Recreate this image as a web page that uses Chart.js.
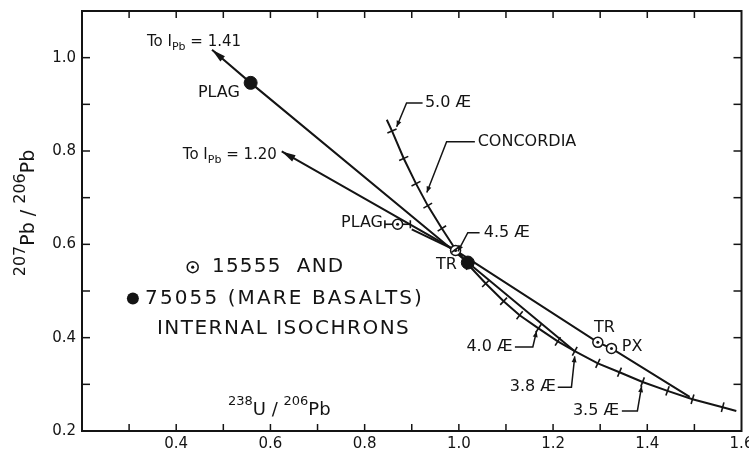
<!DOCTYPE html>
<html><head><meta charset="utf-8">
<script src="https://cdn.jsdelivr.net/npm/chart.js@4.4.0/dist/chart.umd.min.js"></script>
<style>html,body{margin:0;padding:0;background:#fff;}#wrap{width:749px;height:458px;}</style>
</head><body><div id="wrap"><canvas id="c" width="749" height="458"></canvas></div>
<script>
// ---------- data ----------
const xTickLabels = ['0.4','0.6','0.8','1.0','1.2','1.4','1.6'];
const yTickLabels = ['0.2','0.4','0.6','0.8','1.0'];

const concordiaAges = ['', '5.0','4.9','4.8','4.7','4.6','4.5','4.4','4.3','4.2','4.1','4.0','3.9','3.8','3.7','3.6','3.5','3.4','3.3','3.2',''];
const concordiaX = [0.847,0.858,0.883,0.909,0.934,0.964,0.993,1.023,1.057,1.095,1.129,1.169,1.210,1.246,1.295,1.341,1.390,1.443,1.496,1.560,1.589];
const concordiaY = [0.867,0.843,0.784,0.730,0.683,0.634,0.589,0.553,0.516,0.478,0.448,0.420,0.392,0.371,0.345,0.326,0.305,0.286,0.268,0.251,0.243];

const iso75055X = [0.476,0.558,1.019,1.246];
const iso75055Y = [1.017,0.946,0.561,0.371];
const iso15555X = [0.624,0.993,1.295,1.324,1.490];
const iso15555Y = [0.799,0.587,0.390,0.377,0.273];
const plag15555SegX = [0.900,0.993];
const plag15555SegY = [0.632,0.587];

const pts75055Names = ['PLAG','TR'];
const pts75055X = [0.558,1.019];
const pts75055Y = [0.946,0.561];
const pts15555Names = ['PLAG','TR','TR','PX'];
const pts15555X = [0.870,0.993,1.295,1.324];
const pts15555Y = [0.643,0.587,0.390,0.377];
const plagErrX = 0.027;

// ---------- styling / annotations ----------
const INK = '#141414';
const FONT = '"DejaVu Sans", sans-serif';
const xy = (xs, ys) => xs.map((x, i) => ({x, y: ys[i]}));

const notes = [
  {parts:[['To I',15],['Pb',11,5],[' = 1.41',15]], x:0.338, y:1.034, align:'left'},
  {parts:[['PLAG',16]], x:0.446, y:0.925, align:'left'},
  {parts:[['To I',15],['Pb',11,5],[' = 1.20',15]], x:0.414, y:0.792, align:'left'},
  {parts:[['5.0 Æ',16]], x:0.928, y:0.903, align:'left'},
  {parts:[['CONCORDIA',16]], x:1.040, y:0.820, align:'left'},
  {parts:[['PLAG',16]], x:0.839, y:0.647, align:'right'},
  {parts:[['4.5 Æ',16]], x:1.053, y:0.625, align:'left'},
  {parts:[['TR',16]], x:0.996, y:0.555, align:'right'},
  {parts:[['TR',16]], x:1.309, y:0.422, align:'center'},
  {parts:[['PX',16]], x:1.346, y:0.380, align:'left'},
  {parts:[['4.0 Æ',16]], x:1.114, y:0.380, align:'right'},
  {parts:[['3.8 Æ',16]], x:1.206, y:0.294, align:'right'},
  {parts:[['3.5 Æ',16]], x:1.340, y:0.243, align:'right'},
  {parts:[['15555  AND',20]], x:0.476, y:0.551, align:'left', sp:1.2},
  {parts:[['75055 (MARE BASALTS)',20]], x:0.334, y:0.484, align:'left', sp:2.1},
  {parts:[['INTERNAL ISOCHRONS',20]], x:0.359, y:0.418, align:'left', sp:1.5},
  {parts:[['238',13,-8],['U',18],[' / ',18],['206',13,-8],['Pb',18]], x:0.510, y:0.245, align:'left'}
];
const leaders = [
  [[0.923,0.903],[0.889,0.903],[0.868,0.852]],
  [[1.034,0.820],[0.974,0.820],[0.932,0.711]],
  [[1.044,0.625],[1.019,0.625],[0.998,0.585]],
  [[1.119,0.380],[1.157,0.380],[1.165,0.414]],
  [[1.210,0.294],[1.239,0.294],[1.246,0.360]],
  [[1.346,0.243],[1.379,0.243],[1.388,0.296]]
];
const legendMarks = [{x:0.435, y:0.551, open:true},{x:0.308, y:0.484, open:false}];

function drawRich(ctx, parts, x, y, align, sp){
  ctx.letterSpacing = (sp||0) + 'px';
  let w = 0;
  parts.forEach(p => { ctx.font = p[1] + 'px ' + FONT; w += ctx.measureText(p[0]).width; });
  let cx = align === 'right' ? x - w : align === 'center' ? x - w/2 : x;
  ctx.textAlign = 'left'; ctx.textBaseline = 'middle';
  parts.forEach(p => { ctx.font = p[1] + 'px ' + FONT; ctx.fillText(p[0], cx, y + (p[2]||0)); cx += ctx.measureText(p[0]).width; });
  ctx.letterSpacing = '0px';
}
function arrowHead(ctx, x0, y0, x1, y1, len, half){
  const dx = x1-x0, dy = y1-y0, L = Math.hypot(dx,dy), ux = dx/L, uy = dy/L;
  ctx.beginPath();
  ctx.moveTo(x1, y1);
  ctx.lineTo(x1 - ux*len - uy*half, y1 - uy*len + ux*half);
  ctx.lineTo(x1 - ux*len + uy*half, y1 - uy*len - ux*half);
  ctx.closePath(); ctx.fill();
}

const extras = {
  id:'extras',
  afterDatasetsDraw(chart){
    const {ctx, chartArea:ca, scales:{x:sx, y:sy}} = chart;
    const X = v => sx.getPixelForValue(v), Y = v => sy.getPixelForValue(v);
    ctx.save();
    ctx.strokeStyle = INK; ctx.fillStyle = INK; ctx.lineCap = 'butt';
    const seg = (a,b,c,d) => { ctx.beginPath(); ctx.moveTo(a,b); ctx.lineTo(c,d); ctx.stroke(); };
    // frame
    ctx.lineWidth = 2;
    ctx.strokeRect(ca.left, ca.top, ca.right-ca.left, ca.bottom-ca.top);
    // inward axis ticks
    ctx.lineWidth = 1.5;
    sx.ticks.forEach(t => { const p = X(t.value); if (p < ca.left+2 || p > ca.right-2) return; seg(p, ca.bottom, p, ca.bottom-7); seg(p, ca.top, p, ca.top+7); });
    sy.ticks.forEach(t => { const p = Y(t.value); if (p < ca.top+2 || p > ca.bottom-2) return; seg(ca.left, p, ca.left+8, p); seg(ca.right, p, ca.right-8, p); });
    // concordia age ticks
    ctx.lineWidth = 1.6;
    concordiaAges.forEach((a, i) => {
      if (!a) return;
      const px = X(concordiaX[i]), py = Y(concordiaY[i]);
      const dx = X(concordiaX[i+1]) - X(concordiaX[i-1]), dy = Y(concordiaY[i+1]) - Y(concordiaY[i-1]);
      const L = Math.hypot(dx,dy), nx = -dy/L, ny = dx/L;
      seg(px - nx*5, py - ny*5, px + nx*5, py + ny*5);
    });
    // arrowheads at isochron ends
    arrowHead(ctx, X(iso75055X[1]), Y(iso75055Y[1]), X(iso75055X[0]), Y(iso75055Y[0]), 14, 3.5);
    arrowHead(ctx, X(iso15555X[1]), Y(iso15555Y[1]), X(iso15555X[0]), Y(iso15555Y[0]), 14, 3.5);
    // error bar on 15555 PLAG
    ctx.lineWidth = 1.6;
    const ex = X(pts15555X[0]), ey = Y(pts15555Y[0]);
    const e0 = X(pts15555X[0]-plagErrX), e1 = X(pts15555X[0]+plagErrX);
    seg(e0, ey, ex-5, ey); seg(ex+5, ey, e1, ey);
    seg(e0, ey-4, e0, ey+4); seg(e1, ey-4, e1, ey+4);
    // leaders
    ctx.lineWidth = 1.5;
    leaders.forEach(L => {
      ctx.beginPath();
      L.forEach((p, i) => i ? ctx.lineTo(X(p[0]), Y(p[1])) : ctx.moveTo(X(p[0]), Y(p[1])));
      ctx.stroke();
      const a = L[L.length-2], b = L[L.length-1];
      arrowHead(ctx, X(a[0]), Y(a[1]), X(b[0]), Y(b[1]), 6, 2.5);
    });
    // legend marks
    legendMarks.forEach(m => {
      const px = X(m.x), py = Y(m.y);
      ctx.beginPath(); ctx.arc(px, py, m.open ? 5.5 : 6, 0, Math.PI*2);
      if (m.open) { ctx.lineWidth = 1.5; ctx.stroke(); ctx.beginPath(); ctx.arc(px, py, 1.6, 0, Math.PI*2); ctx.fill(); }
      else ctx.fill();
    });
    // texts
    notes.forEach(n => drawRich(ctx, n.parts, X(n.x), Y(n.y), n.align, n.sp));
    // y-axis title (rotated)
    ctx.translate(29, (ca.top + ca.bottom)/2 - 8);
    ctx.rotate(-Math.PI/2);
    drawRich(ctx, [['207',16,-8],['Pb',19],[' / ',19],['206',16,-8],['Pb',19]], 0, 0, 'center');
    ctx.restore();
  }
};

const tickFmt = list => v => { const s = Number(v).toFixed(1); return list.includes(s) ? s : ''; };

new Chart(document.getElementById('c'), {
  type:'scatter',
  data:{ datasets:[
    {label:'75055 points', data:xy(pts75055X, pts75055Y), pointRadius:6.5, pointBackgroundColor:INK, pointBorderColor:INK, showLine:false, order:0},
    {label:'15555 centers', data:xy(pts15555X, pts15555Y), pointRadius:1.5, pointBackgroundColor:INK, pointBorderWidth:0, showLine:false, order:0},
    {label:'15555 points', data:xy(pts15555X, pts15555Y), pointRadius:5, pointBackgroundColor:'#fff', pointBorderColor:INK, pointBorderWidth:1.5, showLine:false, order:1},
    {label:'Concordia', data:xy(concordiaX, concordiaY), showLine:true, borderColor:INK, borderWidth:2, pointRadius:0, order:2},
    {label:'75055 isochron', data:xy(iso75055X, iso75055Y), showLine:true, borderColor:INK, borderWidth:2, pointRadius:0, order:2},
    {label:'15555 isochron', data:xy(iso15555X, iso15555Y), showLine:true, borderColor:INK, borderWidth:2, pointRadius:0, order:2},
    {label:'15555 PLAG', data:xy(plag15555SegX, plag15555SegY), showLine:true, borderColor:INK, borderWidth:2, pointRadius:0, order:2}
  ]},
  options:{
    responsive:false, animation:false, devicePixelRatio:1,
    layout:{padding:{top:11, right:7, left:0, bottom:0}},
    plugins:{legend:{display:false}, tooltip:{enabled:false}},
    scales:{
      x:{type:'linear', min:0.2, max:1.6,
         ticks:{stepSize:0.1, autoSkip:false, maxRotation:0, padding:4, color:INK, font:{family:'DejaVu Sans', size:15}, callback:tickFmt(xTickLabels)},
         grid:{display:false, drawTicks:false}, border:{display:false},
         afterFit(s){ s.height = 27; s.paddingLeft = 0; s.paddingRight = 0; }},
      y:{type:'linear', min:0.2, max:1.1,
         ticks:{stepSize:0.1, autoSkip:false, padding:6, color:INK, font:{family:'DejaVu Sans', size:15}, callback:tickFmt(yTickLabels)},
         grid:{display:false, drawTicks:false}, border:{display:false},
         afterFit(s){ s.width = 82; s.paddingTop = 0; s.paddingBottom = 0; }}
    }
  },
  plugins:[extras]
});
</script></body></html>
